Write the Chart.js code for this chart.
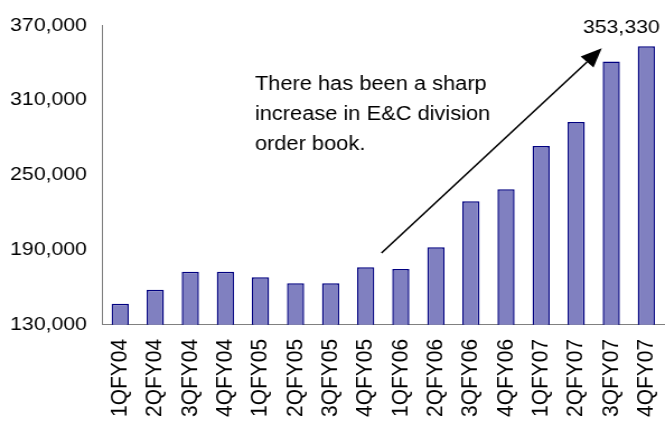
<!DOCTYPE html>
<html>
<head>
<meta charset="utf-8">
<script src="https://cdn.jsdelivr.net/npm/chart.js@4.4.1/dist/chart.umd.min.js"></script>
<style>
  html, body { margin: 0; padding: 0; background: #fff; width: 665px; height: 421px; overflow: hidden; }
  #wrap { width: 594px; height: 421px; transform: scaleX(1.1195); transform-origin: 0 0; }
  #chart { display: block; }
</style>
</head>
<body>
<div id="wrap"><canvas id="chart" width="594" height="421"></canvas></div>
<script>
const quarters = [
  "1QFY04", "2QFY04", "3QFY04", "4QFY04",
  "1QFY05", "2QFY05", "3QFY05", "4QFY05",
  "1QFY06", "2QFY06", "3QFY06", "4QFY06",
  "1QFY07", "2QFY07", "3QFY07", "4QFY07"
];
const orderBook = [
  146800, 158000, 172600, 172600,
  168200, 163400, 163400, 176200,
  174800, 192200, 229000, 238600,
  273400, 292600, 341000, 353330
];
const yTicks = [130000, 190000, 250000, 310000, 370000];
const noteLines = ["There has been a sharp", "increase in E&C division", "order book."];

// annotation anchors in data units (category index, value)
const note = { x: 3.84, y: 318000, gap: 30 };
const arrow = { from: [7.45, 187600], to: [13.73, 351600] };

const FONT = '"Liberation Sans", Arial, sans-serif';
const fmt = v => v.toLocaleString("en-US");

const annotate = {
  id: "annotate",
  afterDatasetsDraw(chart) {
    const { ctx, scales: { x, y } } = chart;
    ctx.save();
    ctx.fillStyle = "#000";
    ctx.strokeStyle = "#000";

    // value label on the last bar
    const last = orderBook.length - 1;
    const bar = chart.getDatasetMeta(0).data[last];
    ctx.font = "19px " + FONT;
    ctx.textAlign = "right";
    ctx.textBaseline = "alphabetic";
    ctx.fillText(fmt(orderBook[last]), bar.x + 12, bar.y - 13);

    // note text
    ctx.textAlign = "left";
    ctx.font = "19.5px " + FONT;
    const nx = x.getPixelForValue(note.x);
    const ny = y.getPixelForValue(note.y);
    noteLines.forEach((line, i) => ctx.fillText(line, nx, ny + i * note.gap));

    // arrow
    const x1 = x.getPixelForValue(arrow.from[0]), y1 = y.getPixelForValue(arrow.from[1]);
    const x2 = x.getPixelForValue(arrow.to[0]), y2 = y.getPixelForValue(arrow.to[1]);
    const ang = Math.atan2(y2 - y1, x2 - x1);
    const head = 19, half = 8;
    const bx = x2 - head * Math.cos(ang), by = y2 - head * Math.sin(ang);
    ctx.lineWidth = 1.6;
    ctx.beginPath();
    ctx.moveTo(x1, y1);
    ctx.lineTo(bx, by);
    ctx.stroke();
    ctx.beginPath();
    ctx.moveTo(x2, y2);
    ctx.lineTo(bx + half * Math.sin(ang), by - half * Math.cos(ang));
    ctx.lineTo(bx - half * Math.sin(ang), by + half * Math.cos(ang));
    ctx.closePath();
    ctx.fill();
    ctx.restore();
  }
};

new Chart(document.getElementById("chart"), {
  type: "bar",
  data: {
    labels: quarters,
    datasets: [{
      data: orderBook,
      backgroundColor: "#8080C0",
      borderColor: "#000080",
      borderWidth: 1.5,
      barPercentage: 0.49,
      categoryPercentage: 1
    }]
  },
  options: {
    responsive: false,
    animation: false,
    devicePixelRatio: 1,
    layout: { padding: { top: 25, left: 9, right: 1, bottom: 4 } },
    plugins: {
      legend: { display: false },
      tooltip: { enabled: false }
    },
    scales: {
      x: {
        grid: { display: false, drawTicks: false },
        border: { display: true, color: "#808080", width: 1 },
        ticks: {
          color: "#000",
          font: { family: FONT, size: 21 },
          minRotation: 90,
          maxRotation: 90,
          padding: 14,
          autoSkip: false
        },
        // padding gets counted twice in fit, and rotated labels ask for side room
        afterFit: s => {
          s.height -= s.options.ticks.padding;
          s.paddingLeft = 0;
          s.paddingRight = 0;
        }
      },
      y: {
        min: yTicks[0],
        max: yTicks[yTicks.length - 1],
        afterBuildTicks: scale => { scale.ticks = yTicks.map(v => ({ value: v })); },
        grid: { display: false, drawTicks: false },
        border: { display: true, color: "#808080", width: 1 },
        ticks: {
          color: "#000",
          font: { family: FONT, size: 19 },
          padding: 14,
          callback: v => fmt(v)
        },
        afterFit: s => { s.width -= s.options.ticks.padding; }
      }
    }
  },
  plugins: [annotate]
});
</script>
</body>
</html>
